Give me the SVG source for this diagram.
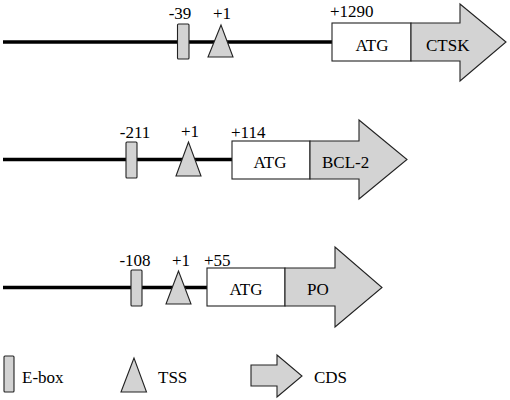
<svg xmlns="http://www.w3.org/2000/svg" width="510" height="400" viewBox="0 0 510 400">
<style>
.m{text-anchor:middle}
.dna{stroke:#000;stroke-width:3.5;fill:none}
.g{fill:#d3d3d3;stroke:#222;stroke-width:1.1}
.w{fill:#fff;stroke:#222;stroke-width:1.1}
</style>
<rect width="510" height="400" fill="#fff"/>
<g id="connectors">
<line class="dna" x1="3" y1="42" x2="333" y2="42"/>
<line class="dna" x1="3" y1="159.5" x2="233" y2="159.5"/>
<line class="dna" x1="3" y1="287.5" x2="208" y2="287.5"/>
</g>
<g font-family="'Liberation Serif', 'DejaVu Serif', 'Times New Roman', serif" font-size="17" fill="#000">
<g id="ctsk">
<rect id="ctsk-ebox" class="g" x="177.5" y="24" width="11.5" height="35" rx="1"/>
<polygon id="ctsk-tss" class="g" points="221,25 208,57 233,57"/>
<rect id="ctsk-atg" class="w" x="332" y="23" width="79" height="38"/>
<polygon id="ctsk-cds" class="g" points="411,23 460,23 460,4 506,42 460,81 460,61 411,61"/>
<text class="m" x="180" y="19">-39</text>
<text class="m" x="222" y="19">+1</text>
<text x="330" y="17">+1290</text>
<text class="m" x="372" y="51">ATG</text>
<text x="426" y="51">CTSK</text>
</g>
<g id="bcl2">
<rect id="bcl2-ebox" class="g" x="126" y="142" width="11" height="36" rx="1"/>
<polygon id="bcl2-tss" class="g" points="188.5,142 176,176 201,176"/>
<rect id="bcl2-atg" class="w" x="232" y="141" width="78" height="38"/>
<polygon id="bcl2-cds" class="g" points="310,141 359,141 359,120 407,159.5 359,199 359,179 310,179"/>
<text class="m" x="135" y="137.5">-211</text>
<text class="m" x="190" y="137">+1</text>
<text x="231" y="137.5">+114</text>
<text class="m" x="270" y="168">ATG</text>
<text x="322" y="168">BCL-2</text>
</g>
<g id="po">
<rect id="po-ebox" class="g" x="131" y="270" width="11" height="36" rx="1"/>
<polygon id="po-tss" class="g" points="178.5,271 166,304 191,304"/>
<rect id="po-atg" class="w" x="207" y="268" width="78" height="38"/>
<polygon id="po-cds" class="g" points="285,268 335,268 335,247 382,287.5 335,327 335,306 285,306"/>
<text class="m" x="135" y="266">-108</text>
<text class="m" x="181" y="266">+1</text>
<text x="204" y="266">+55</text>
<text class="m" x="246" y="295">ATG</text>
<text x="307" y="295">PO</text>
</g>
<g id="legend">
<rect id="legend-ebox" class="g" x="4" y="356" width="10" height="36" rx="1"/>
<text x="22" y="383">E-box</text>
<polygon id="legend-tss" class="g" points="134,358 121,392 146.5,392"/>
<text x="158" y="383">TSS</text>
<polygon id="legend-cds" class="g" points="251,365 277,365 277,355 302,376 277,397 277,386 251,386"/>
<text x="314" y="383">CDS</text>
</g>
</g>
</svg>
